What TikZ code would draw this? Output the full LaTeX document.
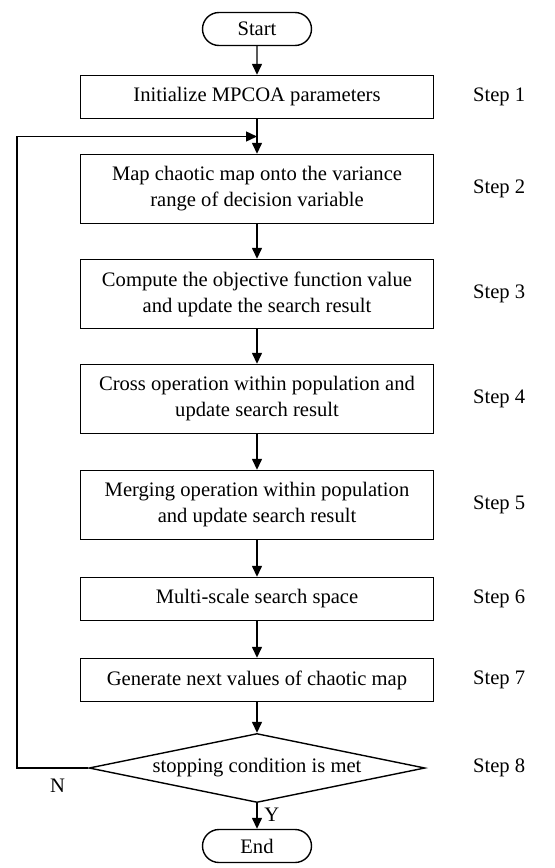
\documentclass[tikz,border=0pt]{standalone}
\usepackage{fontspec}
\setmainfont{Liberation Serif}
\usepackage{tikz}
\usetikzlibrary{arrows.meta}
\usetikzlibrary{calc}
\usetikzlibrary{shapes.misc}
\usetikzlibrary{shapes.geometric}
\newcommand{\widthproc}{176.5pt}
\newcommand{\heightone}{21.5pt}
\newcommand{\heighttwo}{34.5pt}
\tikzset{
    common/.style={draw, line width=0.7pt, align=center, inner sep=2pt},
    proc/.style={common, rectangle, minimum width=\widthproc, minimum height=\heightone},
    proctwo/.style={proc, minimum height=\heighttwo},
    terminal/.style={common, rounded rectangle, minimum width=58.5pt, minimum height=16.5pt},
    decision/.style={common, diamond, shape aspect=4.9, inner sep=0pt, minimum width=168pt, minimum height=34.5pt},
    steplabel/.style={anchor=west},
    flow/.style={-{Triangle[length=5.5pt, width=5pt]}, line width=0.7pt}
}

\begin{document}
\begin{tikzpicture}[x=0.5pt, y=-0.5pt, font=\fontsize{10.3}{13}\selectfont]
    \useasboundingbox (0,0) rectangle (554,868);
    \node[terminal] (start) at (257,29) {Start};
    \node[proc] (s1) at (257,97) {Initialize MPCOA parameters};
    \node[proctwo] (s2) at (257,189) {Map chaotic map onto the variance\\range of decision variable};
    \node[proctwo] (s3) at (257,294) {Compute the objective function value\\and update the search result};
    \node[proctwo] (s4) at (257,399) {Cross operation within population and\\update search result};
    \node[proctwo] (s5) at (257,505) {Merging operation within population\\and update search result};
    \node[proc] (s6) at (257,599) {Multi-scale search space};
    \node[proc] (s7) at (257,680) {Generate next values of chaotic map};
    \node[decision] (s8) at (257,768) {stopping condition is met};
    \node[terminal] (end) at (257,846) {End};

    % step numbers on the right
    \coordinate (xs) at (466,0);
    \foreach \i in {1,...,8}
        \node[steplabel] (lab\i) at (s\i -| xs) {Step \i};

    \draw[flow] (start) -- (s1);
    \foreach \a/\b in {s1/s2, s2/s3, s3/s4, s4/s5, s5/s6, s6/s7, s7/s8}
        \draw[flow] (\a) -- (\b);
    \draw[flow] (s8) -- node[right, pos=0.45] (yes) {Y} (end);

    % back to step 2
    \coordinate (join) at ($(s1.south)!0.5!(s2.north)$);
    \coordinate (back) at (17,768);
    \draw[flow] (s8.west) -- node[below=2pt, pos=0.43] (no) {N} (back) |- (join);
\end{tikzpicture}
\end{document}
